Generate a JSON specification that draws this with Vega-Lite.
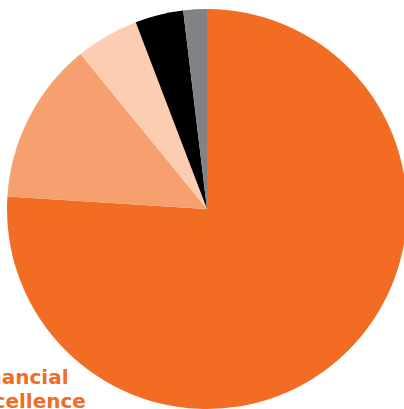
{
  "$schema": "https://vega.github.io/schema/vega-lite/v6.json",
  "width": 414,
  "height": 418,
  "padding": 0,
  "autosize": "none",
  "background": "white",
  "view": {"stroke": null},
  "title": {
    "text": ["Financial", "Excellence"],
    "orient": "bottom",
    "anchor": "start",
    "offset": -50,
    "dx": -33,
    "color": "#F26C24",
    "font": "DejaVu Sans",
    "fontWeight": "bold",
    "fontSize": 20,
    "lineHeight": 24
  },
  "data": {
    "values": [
      {"category": "Financial Excellence", "share": 76.0, "rank": 1},
      {"category": "Category B", "share": 13.1, "rank": 2},
      {"category": "Category C", "share": 5.1, "rank": 3},
      {"category": "Category D", "share": 3.9, "rank": 4},
      {"category": "Category E", "share": 1.9, "rank": 5}
    ]
  },
  "mark": {"type": "arc", "outerRadius": 200},
  "encoding": {
    "theta": {"field": "share", "type": "quantitative", "stack": true},
    "order": {"field": "rank", "type": "quantitative"},
    "color": {
      "field": "category",
      "type": "nominal",
      "scale": {
        "domain": ["Financial Excellence", "Category B", "Category C", "Category D", "Category E"],
        "range": ["#F26C24", "#F5A06E", "#FDCDB1", "#000000", "#808285"]
      },
      "legend": null
    }
  }
}
